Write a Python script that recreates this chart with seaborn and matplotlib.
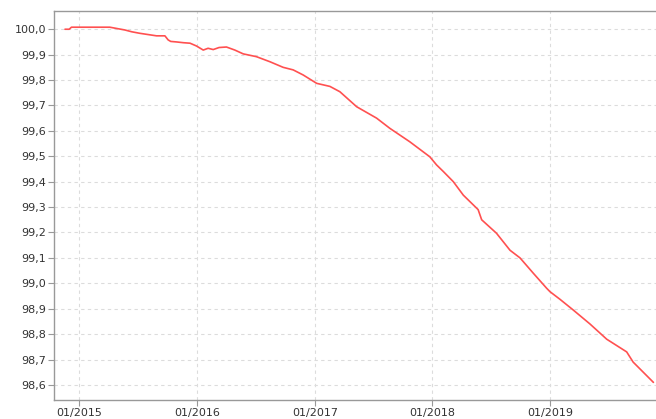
import matplotlib
matplotlib.use("Agg")
import matplotlib.pyplot as plt
import matplotlib.dates as mdates
from matplotlib.ticker import FuncFormatter, MultipleLocator
import pandas as pd
import seaborn as sns

dates = [
    "2014-11-18", "2014-12-01", "2014-12-08", "2015-04-06", "2015-05-23", "2015-06-13",
    "2015-07-08", "2015-08-29", "2015-09-24", "2015-10-04", "2015-10-12", "2015-10-30",
    "2015-11-20", "2015-12-11", "2015-12-31", "2016-01-21", "2016-02-05", "2016-02-21",
    "2016-03-10", "2016-04-02", "2016-04-28", "2016-05-24", "2016-07-04", "2016-08-15",
    "2016-09-25", "2016-10-26", "2016-11-26", "2017-01-07", "2017-02-17", "2017-03-20",
    "2017-05-11", "2017-07-12", "2017-08-22", "2017-10-23", "2017-12-24", "2018-01-14",
    "2018-02-04", "2018-03-07", "2018-04-07", "2018-05-23", "2018-06-03", "2018-07-19",
    "2018-08-30", "2018-09-30", "2018-11-10", "2018-12-22", "2019-01-01", "2019-02-01",
    "2019-03-14", "2019-05-05", "2019-06-26", "2019-08-27", "2019-09-16", "2019-11-18",
]
values = [
    100.000, 100.000, 100.008, 100.008, 99.997, 99.990,
    99.984, 99.974, 99.974, 99.958, 99.952, 99.950,
    99.947, 99.945, 99.934, 99.918, 99.925, 99.920,
    99.928, 99.930, 99.918, 99.903, 99.892, 99.872,
    99.850, 99.840, 99.820, 99.787, 99.775, 99.754,
    99.695, 99.650, 99.610, 99.557, 99.498, 99.466,
    99.440, 99.400, 99.347, 99.290, 99.250, 99.197,
    99.130, 99.100, 99.040, 98.980, 98.967, 98.937,
    98.895, 98.840, 98.780, 98.730, 98.690, 98.610,
]
year_ticks = ["2015-01-01", "2016-01-01", "2017-01-01", "2018-01-01", "2019-01-01"]

df = pd.DataFrame({"date": pd.to_datetime(dates), "value": values})

sns.set_style("white")
fig = plt.figure(figsize=(6.56, 4.19), dpi=100)
ax = fig.add_axes([0.0829, 0.0453, 0.9171, 0.9292])

sns.lineplot(data=df, x="date", y="value", ax=ax, color="#ff5050", linewidth=1.2)

ax.set_xlim(pd.Timestamp("2014-10-16"), pd.Timestamp("2019-11-26"))
ax.set_ylim(98.5406, 100.073)
ax.set_xticks(pd.to_datetime(year_ticks))
ax.xaxis.set_major_formatter(mdates.DateFormatter("%m/%Y"))
ax.yaxis.set_major_locator(MultipleLocator(0.1))
ax.yaxis.set_major_formatter(FuncFormatter(lambda v, p: f"{v:.1f}".replace(".", ",")))

ax.grid(True, color="#dcdcdc", linestyle=(0, (3, 3)), linewidth=0.8)
ax.set_xlabel("")
ax.set_ylabel("")
for s in ["right"]:
    ax.spines[s].set_visible(False)
for s in ["left", "top", "bottom"]:
    ax.spines[s].set_color("#999999")
    ax.spines[s].set_linewidth(1.0)
ax.tick_params(axis="both", which="major", direction="out", length=4, width=0.8,
               color="#999999", labelsize=8, labelcolor="#333333", pad=2,
               left=True, bottom=True)

fig.savefig("out.png", dpi=100)
